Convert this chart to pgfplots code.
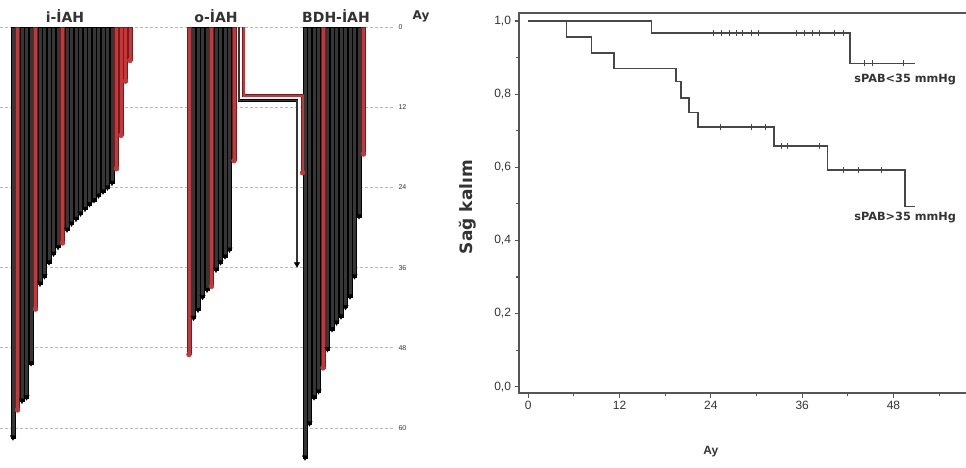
\documentclass[border=0pt]{standalone}
\usepackage{pgfplots}
\pgfplotsset{compat=1.18}
\usepackage{pgfplotstable}
\usepackage{fontspec}
\setmainfont{DejaVu Sans}
\newfontfamily\arial{Liberation Sans}

\definecolor{barblack}{HTML}{363636}
\definecolor{barred}{HTML}{C3383A}
\definecolor{edgered}{HTML}{7A1A1A}
\definecolor{kmline}{HTML}{474747}
\definecolor{spine}{HTML}{555555}
\definecolor{txt}{HTML}{333333}

% follow-up (months) per patient, x = horizontal slot of the bar
% black: alive at last follow-up (arrow), red: died (dot)
\pgfplotstableread{
x m
13 61.5
22 56
26.5 55.5
31 50.4
40 38.5
44.5 37.4
49 35.3
53.5 34
58 33
67 30.4
71.5 29.5
76 28.8
80.5 28
85 27.3
89.5 26.6
94 26
98.5 25.3
103 24.7
107.5 24.1
112 23.4
}\iblack
\pgfplotstableread{
x m
17.5 57.3
35.5 42.2
62.5 32.3
116.5 21.2
121 16.2
125.5 8.1
130 5
}\ired
\pgfplotstableread{
x m
193.5 43.6
198 42.4
202.5 40.5
207 39.4
216 36.4
220.5 35.3
225 34.4
229.5 33.4
}\oblack
\pgfplotstableread{
x m
189 49
211.5 38.8
234 20
}\ored
\pgfplotstableread{
x m
305 64.5
309.5 59.4
314 55.5
318.5 54.6
327.5 48.3
332 45.3
336.5 44.3
341 43.4
345.5 42
350 40.4
354.5 37.4
359 28.4
}\bblack
\pgfplotstableread{
x m
323 51
363.5 19
}\bred

\pgfplotsset{
  blackbar/.style={ybar, bar width=3.9, bar shift=0pt, fill=barblack, draw=black, line width=0.4pt},
  redbar/.style={ybar, bar width=3.9, bar shift=0pt, fill=barred, draw=edgered, line width=0.4pt},
  blackend/.style={only marks, mark=triangle*, mark size=3.1pt, mark options={rotate=180, fill=black, draw=black, yshift=-0.8pt}},
  redend/.style={only marks, mark=*, mark size=2.5pt, mark options={fill=barred, draw=barred}},
}

\begin{document}
\begin{tikzpicture}
\useasboundingbox (0,0) rectangle (966pt,467pt);

% ---------- follow-up bars by group ----------
\begin{axis}[
  at={(0pt,0pt)}, anchor=south west, scale only axis,
  width=395pt, height=467pt,
  xmin=0, xmax=395, ymin=-4.04, ymax=65.84, y dir=reverse,
  clip=false,
  axis line style={draw=none},
  major tick style={draw=none},
  xtick=\empty,
  ytick={0,12,...,60},
  yticklabel pos=right,
  /pgf/number format/assume math mode=true,
  yticklabel style={font=\arial\fontsize{7}{8}\selectfont, text=txt},
  ymajorgrids,
  grid style={dash pattern=on 2.5pt off 2.5pt, gray!55, line width=0.7pt},
]
\addplot[blackbar] table[x=x, y=m] {\iblack};
\addplot[redbar]   table[x=x, y=m] {\ired};
\addplot[blackbar] table[x=x, y=m] {\oblack};
\addplot[redbar]   table[x=x, y=m] {\ored};
\addplot[blackbar] table[x=x, y=m] {\bblack};
\addplot[redbar]   table[x=x, y=m] {\bred};

% patients moved from o-IAH to BDH-IAH
\addplot[black, line width=2.6pt] coordinates {(239,0) (239,11.0) (297,11.0) (297,35.6)};
\addplot[barblack, line width=1.6pt] coordinates {(239,0) (239,11.0) (297,11.0) (297,35.6)};
\addplot[edgered, line width=3.2pt] coordinates {(243.5,0) (243.5,10.3) (302.5,10.3) (302.5,21.8)};
\addplot[barred, line width=2.0pt] coordinates {(243.5,0) (243.5,10.3) (302.5,10.3) (302.5,21.8)};

\addplot[blackend] table[x=x, y=m] {\iblack};
\addplot[redend]   table[x=x, y=m] {\ired};
\addplot[blackend] table[x=x, y=m] {\oblack};
\addplot[redend]   table[x=x, y=m] {\ored};
\addplot[blackend] table[x=x, y=m] {\bblack};
\addplot[redend]   table[x=x, y=m] {\bred};
\addplot[blackend] coordinates {(297,35.6)};
\addplot[redend]   coordinates {(302.5,21.8)};

\node[font=\bfseries\fontsize{14}{16}\selectfont, text=txt] at (axis cs:65,-1.65) {i-İAH};
\node[font=\bfseries\fontsize{14}{16}\selectfont, text=txt] at (axis cs:216,-1.65) {o-İAH};
\node[font=\bfseries\fontsize{14}{16}\selectfont, text=txt] at (axis cs:336,-1.65) {BDH-İAH};
\node[font=\bfseries\fontsize{12}{14}\selectfont, text=txt] at (axis cs:421,-1.65) {Ay};
\end{axis}

% ---------- Kaplan-Meier survival ----------
\begin{axis}[
  at={(519pt,73.7pt)}, anchor=south west, scale only axis,
  width=481pt, height=380pt,
  xmin=-1.22, xmax=62, ymin=-0.018, ymax=1.021,
  clip=false,
  xtick={0,12,...,48}, ytick={0,0.2,0.4,0.6,0.8,1.0},
  minor xtick={6,18,30,42,54}, minor y tick num=1,
  xtick pos=bottom, ytick pos=left,
  tick align=outside,
  major tick length=4.5pt, minor tick length=3pt,
  every tick/.style={spine, line width=1.1pt},
  axis line style={spine, line width=1.7pt},
  /pgf/number format/assume math mode=true,
  ticklabel style={font=\arial\fontsize{12}{14}\selectfont, text=txt},
  yticklabel style={/pgf/number format/.cd, use comma, fixed, fixed zerofill, precision=1},
  xlabel={Ay},
  xlabel style={at={(rel axis cs:0.399,-0.154)}, anchor=center, font=\arial\bfseries\fontsize{12}{14}\selectfont, text=txt},
  ylabel={Sağ kalım},
  ylabel style={at={(rel axis cs:-0.106,0.49)}, anchor=center, font=\bfseries\fontsize{17}{20}\selectfont, text=txt},
]
% sPAB < 35 mmHg
\addplot[const plot, kmline, line width=1.6pt] coordinates {
  (0,1) (16.2,0.967) (42.3,0.884) (50.8,0.884)};
\addplot[only marks, mark=|, mark size=3pt, mark options={kmline, line width=1pt}] coordinates {
  (24.3,0.967) (25.4,0.967) (26.4,0.967) (27.4,0.967) (28.2,0.967) (29.3,0.967) (30.2,0.967)
  (35.2,0.967) (36.3,0.967) (37.4,0.967) (38.3,0.967) (40.3,0.967) (41.4,0.967)
  (44.2,0.884) (45.3,0.884) (49.3,0.884)};
% sPAB > 35 mmHg
\addplot[const plot, kmline, line width=1.6pt] coordinates {
  (0,1) (5,0.957) (8.3,0.913) (11.25,0.870) (19.4,0.835) (20.1,0.79) (21.1,0.75)
  (22.3,0.71) (32.3,0.658) (39.3,0.592) (49.5,0.493) (50.8,0.493)};
\addplot[only marks, mark=|, mark size=3pt, mark options={kmline, line width=1pt}] coordinates {
  (25.3,0.71) (29.3,0.71) (31.2,0.71)
  (33.3,0.658) (34.1,0.658) (38.3,0.658)
  (41.4,0.592) (43.4,0.592) (46.4,0.592)};

\node[anchor=west, inner sep=1pt, font=\bfseries\fontsize{11.3}{13}\selectfont, text=txt] at (axis cs:42.7,0.840) {sPAB<35 mmHg};
\node[anchor=west, inner sep=1pt, font=\bfseries\fontsize{11.3}{13}\selectfont, text=txt] at (axis cs:42.7,0.462) {sPAB>35 mmHg};
\end{axis}
\end{tikzpicture}
\end{document}
